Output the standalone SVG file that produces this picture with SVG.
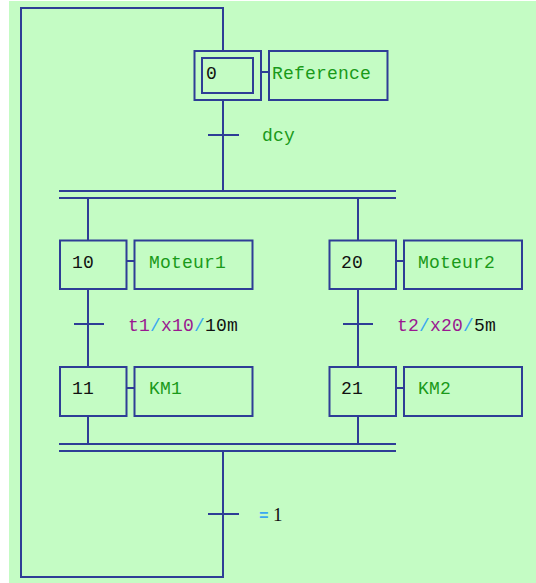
<svg xmlns="http://www.w3.org/2000/svg" width="536" height="583" viewBox="0 0 536 583">
<style>
.ln{stroke:#2e3d96;stroke-width:2;fill:none}
.bx{stroke:#2e3d96;stroke-width:2;fill:none}
text{font-family:"Liberation Mono","DejaVu Sans Mono",monospace;font-size:18px;letter-spacing:0.2px}
.num{fill:#111}
.act{fill:#1a9a1a}
.var{fill:#9a1890}
.sl{fill:#3aa8f0}
.blk{fill:#111}
</style>
<rect x="0" y="0" width="536" height="583" fill="#ffffff"/>
<rect x="9" y="1" width="527" height="582" fill="#c4fcc4"/>
<g id="connectors">
<polyline class="ln" points="223,51 223,8 21,8 21,577 223,577 223,451"/>
<line class="ln" x1="223" y1="100" x2="223" y2="191"/>
<line class="ln" x1="208" y1="135" x2="239" y2="135"/>
<line class="ln" x1="59" y1="191" x2="396" y2="191"/>
<line class="ln" x1="59" y1="198" x2="396" y2="198"/>
<line class="ln" x1="88" y1="198" x2="88" y2="240"/>
<line class="ln" x1="358" y1="198" x2="358" y2="240"/>
<line class="ln" x1="88" y1="289" x2="88" y2="367"/>
<line class="ln" x1="358" y1="289" x2="358" y2="367"/>
<line class="ln" x1="74" y1="324" x2="104" y2="324"/>
<line class="ln" x1="343" y1="324" x2="373" y2="324"/>
<line class="ln" x1="88" y1="416" x2="88" y2="444"/>
<line class="ln" x1="358" y1="416" x2="358" y2="444"/>
<line class="ln" x1="59" y1="444" x2="396" y2="444"/>
<line class="ln" x1="59" y1="451" x2="396" y2="451"/>
<line class="ln" x1="208" y1="514" x2="239" y2="514"/>
<line class="ln" x1="261" y1="72" x2="269" y2="72"/>
<line class="ln" x1="126" y1="261" x2="134" y2="261"/>
<line class="ln" x1="396" y1="261" x2="404" y2="261"/>
<line class="ln" x1="126" y1="388" x2="134" y2="388"/>
<line class="ln" x1="396" y1="388" x2="404" y2="388"/>
</g>
<g id="step0">
<rect class="bx" x="194.5" y="51" width="66.5" height="49"/>
<rect class="bx" x="202" y="58" width="51" height="35"/>
<text class="num" x="206" y="79">0</text>
</g>
<g id="action0">
<rect class="bx" x="269" y="51" width="118.5" height="49"/>
<text class="act" x="272" y="79">Reference</text>
</g>
<g id="trans-dcy">
<text class="act" x="262" y="141">dcy</text>
</g>
<g id="step10">
<rect class="bx" x="60" y="240.5" width="66.5" height="48.5"/>
<text class="num" x="72" y="268">10</text>
</g>
<g id="action10">
<rect class="bx" x="134.5" y="240.5" width="118" height="48.5"/>
<text class="act" x="149" y="268">Moteur1</text>
</g>
<g id="step20">
<rect class="bx" x="329.5" y="240.5" width="66.5" height="48.5"/>
<text class="num" x="341" y="268">20</text>
</g>
<g id="action20">
<rect class="bx" x="404" y="240.5" width="118" height="48.5"/>
<text class="act" x="418" y="268">Moteur2</text>
</g>
<g id="trans-t1">
<text x="128" y="331"><tspan class="var">t1</tspan><tspan class="sl">/</tspan><tspan class="var">x10</tspan><tspan class="sl">/</tspan><tspan class="blk">10m</tspan></text>
</g>
<g id="trans-t2">
<text x="397" y="331"><tspan class="var">t2</tspan><tspan class="sl">/</tspan><tspan class="var">x20</tspan><tspan class="sl">/</tspan><tspan class="blk">5m</tspan></text>
</g>
<g id="step11">
<rect class="bx" x="60" y="367" width="66.5" height="49"/>
<text class="num" x="72" y="394">11</text>
</g>
<g id="action11">
<rect class="bx" x="134.5" y="367" width="118" height="49"/>
<text class="act" x="149" y="394">KM1</text>
</g>
<g id="step21">
<rect class="bx" x="329.5" y="367" width="66.5" height="49"/>
<text class="num" x="341" y="394">21</text>
</g>
<g id="action21">
<rect class="bx" x="404" y="367" width="118" height="49"/>
<text class="act" x="418" y="394">KM2</text>
</g>
<g id="trans-eq1">
<text x="259" y="521"><tspan class="sl" style="font-size:16px;font-weight:bold">=</tspan><tspan class="blk" x="273" style="font-family:'Liberation Serif',serif;font-size:19px">1</tspan></text>
</g>
</svg>
